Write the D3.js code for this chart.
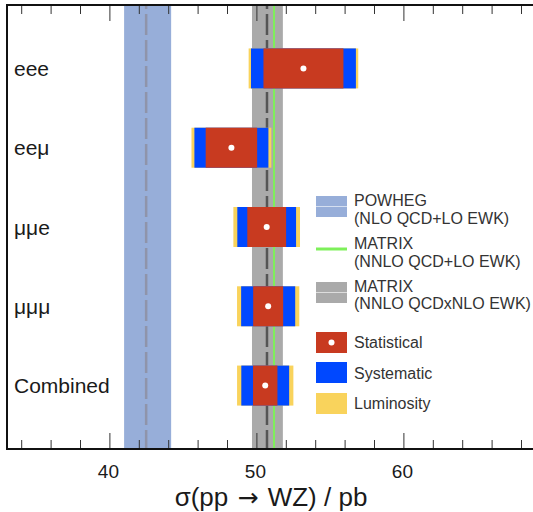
<!DOCTYPE html>
<html>
<head>
<meta charset="utf-8">
<script src="https://cdn.jsdelivr.net/npm/d3@7"></script>
<style>
  html, body { margin: 0; padding: 0; background: #fff; }
  svg { display: block; font-family: "Liberation Sans", Arial, Helvetica, sans-serif; }
</style>
</head>
<body>
<svg id="chart" width="533" height="512"></svg>
<script>
// Measured WZ cross sections per decay channel (pb)
const categories = ["eee", "eeμ", "μμe", "μμμ", "Combined"];
const central    = [53.2, 48.3, 50.7, 50.8, 50.6];
const statErr    = [2.72, 1.75, 1.32, 1.02, 0.83];
const systErr    = [2.31, 1.81, 1.50, 1.53, 1.40];
const lumiErr    = [1.08, 1.02, 1.07, 1.05, 1.01];

// Theory predictions: [low, central, high]
const powheg       = [41.0, 42.5, 44.2];
const matrixNloEwk = [49.7, 50.72, 51.8];
const matrixLoEwk  = 51.2;

// Axis ticks
const majorTicks = [40, 50, 60];
const minorTicks = [34, 36, 38, 42, 44, 46, 48, 52, 54, 56, 58, 62, 64, 66, 68];
const xDomain = [33, 70];

const colors = {
  powheg: "#97aed9",
  powhegLine: "#8f94aa",
  matrixBand: "#aaaaaa",
  matrixLine: "#555555",
  green: "#7ef05a",
  stat: "#c83a20",
  syst: "#0048ff",
  lumi: "#f9d35c",
  text: "#1a1a1a"
};

const svg = d3.select("#chart");
const plotTop = 5, plotBottom = 449, plotLeft = 7;
const x = d3.scaleLinear().domain(xDomain).range([6.5, 550.4]);
const y = d3.scalePoint().domain(categories).range([plotTop, plotBottom]).padding(0.8);
const boxH = 40;

// Theory bands
const bands = svg.append("g");
bands.append("rect")
  .attr("x", x(powheg[0])).attr("y", plotTop)
  .attr("width", x(powheg[2]) - x(powheg[0])).attr("height", plotBottom - plotTop)
  .attr("fill", colors.powheg);
bands.append("rect")
  .attr("x", x(matrixNloEwk[0])).attr("y", plotTop)
  .attr("width", x(matrixNloEwk[2]) - x(matrixNloEwk[0])).attr("height", plotBottom - plotTop)
  .attr("fill", colors.matrixBand);

// Central theory values
bands.append("line")
  .attr("x1", x(powheg[1])).attr("x2", x(powheg[1]))
  .attr("y1", plotTop).attr("y2", plotBottom)
  .attr("stroke", colors.powhegLine).attr("stroke-width", 2.5)
  .attr("stroke-dasharray", "21,5").attr("stroke-dashoffset", 17);
bands.append("line")
  .attr("x1", x(matrixNloEwk[1])).attr("x2", x(matrixNloEwk[1]))
  .attr("y1", plotTop).attr("y2", plotBottom)
  .attr("stroke", colors.matrixLine).attr("stroke-width", 2.5)
  .attr("stroke-dasharray", "21,5").attr("stroke-dashoffset", 17);
bands.append("line")
  .attr("x1", x(matrixLoEwk)).attr("x2", x(matrixLoEwk))
  .attr("y1", plotTop).attr("y2", plotBottom)
  .attr("stroke", colors.green).attr("stroke-width", 2);

// Measurement boxes: luminosity, stat⊕syst, stat (nested, added in quadrature)
const rows = categories.map((c, i) => {
  const s = statErr[i];
  const ss = Math.sqrt(s * s + systErr[i] * systErr[i]);
  const tot = Math.sqrt(ss * ss + lumiErr[i] * lumiErr[i]);
  return { cat: c, c: central[i], stat: s, statSyst: ss, total: tot };
});

const meas = svg.append("g").selectAll("g").data(rows).join("g");
meas.append("rect")
  .attr("x", d => x(d.c - d.total)).attr("y", d => y(d.cat) - boxH / 2)
  .attr("width", d => x(d.c + d.total) - x(d.c - d.total)).attr("height", boxH)
  .attr("fill", colors.lumi);
meas.append("rect")
  .attr("x", d => x(d.c - d.statSyst)).attr("y", d => y(d.cat) - boxH / 2)
  .attr("width", d => x(d.c + d.statSyst) - x(d.c - d.statSyst)).attr("height", boxH)
  .attr("fill", colors.syst);
meas.append("rect")
  .attr("x", d => x(d.c - d.stat)).attr("y", d => y(d.cat) - boxH / 2)
  .attr("width", d => x(d.c + d.stat) - x(d.c - d.stat)).attr("height", boxH)
  .attr("fill", colors.stat);
meas.append("circle")
  .attr("cx", d => x(d.c)).attr("cy", d => y(d.cat)).attr("r", 3)
  .attr("fill", "#fff");

// Channel labels
svg.append("g").selectAll("text").data(categories).join("text")
  .attr("x", 14).attr("y", d => y(d) + 7.5)
  .attr("font-size", 21).attr("fill", colors.text)
  .text(d => d);

// Axes: ticks pointing inward on bottom and top
function drawAxis(axisFn, yPos, values, len) {
  const g = svg.append("g").attr("transform", `translate(0,${yPos})`)
    .call(axisFn(x).tickValues(values).tickSize(len).tickFormat(""));
  g.select(".domain").remove();
  g.selectAll(".tick line").attr("stroke", "#333").attr("stroke-width", 1);
  return g;
}
drawAxis(d3.axisTop, plotBottom, minorTicks, 9);
drawAxis(d3.axisTop, plotBottom, majorTicks, 16);
drawAxis(d3.axisBottom, plotTop, minorTicks, 9);
drawAxis(d3.axisBottom, plotTop, majorTicks, 16);

// Tick labels
svg.append("g").selectAll("text").data(majorTicks).join("text")
  .attr("x", d => x(d) - 1).attr("y", 478)
  .attr("text-anchor", "middle").attr("font-size", 19).attr("fill", colors.text)
  .text(d => d);

// Frame
svg.append("path")
  .attr("d", `M533,${plotTop} H${plotLeft} V${plotBottom} H533`)
  .attr("fill", "none").attr("stroke", "#111").attr("stroke-width", 2);

// Axis title
const title = svg.append("text")
  .attr("x", 271).attr("y", 506)
  .attr("text-anchor", "middle").attr("font-size", 26).attr("fill", colors.text);
title.append("tspan").text("σ(pp ");
title.append("tspan").attr("font-family", "DejaVu Sans").attr("font-size", 25)
  .attr("dx", 2).text("→");
title.append("tspan").attr("dx", 2).text(" WZ) / pb");

// Legend
const lg = svg.append("g");
const sx = 316, sw = 31, tx = 354;
lg.append("rect").attr("x", sx).attr("y", 196).attr("width", sw).attr("height", 21).attr("fill", colors.powheg);
lg.append("line").attr("x1", sx).attr("x2", sx + sw).attr("y1", 206.5).attr("y2", 206.5)
  .attr("stroke", "#fff").attr("stroke-opacity", 0.6).attr("stroke-width", 1);
lg.append("line").attr("x1", sx).attr("x2", sx + sw).attr("y1", 249).attr("y2", 249)
  .attr("stroke", colors.green).attr("stroke-width", 3);
lg.append("rect").attr("x", sx).attr("y", 282).attr("width", sw).attr("height", 21).attr("fill", colors.matrixBand);
lg.append("line").attr("x1", sx).attr("x2", sx + sw).attr("y1", 292.5).attr("y2", 292.5)
  .attr("stroke", "#fff").attr("stroke-opacity", 0.6).attr("stroke-width", 1);
lg.append("rect").attr("x", sx).attr("y", 332).attr("width", sw).attr("height", 21).attr("fill", colors.stat);
lg.append("circle").attr("cx", sx + sw / 2).attr("cy", 342.5).attr("r", 3).attr("fill", "#fff");
lg.append("rect").attr("x", sx).attr("y", 362).attr("width", sw).attr("height", 21).attr("fill", colors.syst);
lg.append("rect").attr("x", sx).attr("y", 393).attr("width", sw).attr("height", 21).attr("fill", colors.lumi);

const legendText = [
  ["POWHEG", 206], ["(NLO QCD+LO EWK)", 224],
  ["MATRIX", 249], ["(NNLO QCD+LO EWK)", 267],
  ["MATRIX", 292], ["(NNLO QCDxNLO EWK)", 309],
  ["Statistical", 348], ["Systematic", 378.5], ["Luminosity", 409]
];
lg.selectAll("text.lt").data(legendText).join("text")
  .attr("class", "lt")
  .attr("x", tx).attr("y", d => d[1])
  .attr("font-size", 16).attr("fill", "#333")
  .text(d => d[0]);
</script>
</body>
</html>
